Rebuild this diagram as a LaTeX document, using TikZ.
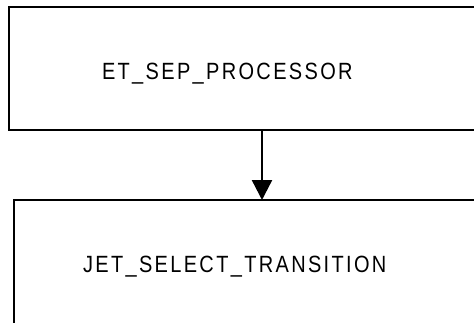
\documentclass[tikz,border=0pt]{standalone}
\usepackage{fontspec}
\setmainfont[FakeStretch=0.85,LetterSpace=10]{Liberation Sans}
\usetikzlibrary{arrows.meta}

\def\boxheight{123.3pt}

\begin{document}
\begin{tikzpicture}[x=1pt,y=1pt,line width=2pt,font=\fontsize{23.5}{28}\selectfont]
    \tikzstyle{block}=[rectangle,draw=black,inner sep=0pt,outer sep=0pt]
    \tikzstyle{label text}=[inner sep=0pt,anchor=base west]
    \tikzstyle{flow}=[-{Triangle[length=20pt,width=20pt]},line width=2.4pt]

    % Keep the page at the size of the picture
    \useasboundingbox (0,0) rectangle (474,-322);

    % Draw the two boxes, both run out past the right edge
    \node[block,minimum width=506pt,minimum height=\boxheight,anchor=north west] (sep) at (9,-6.7) {};
    \node[block,minimum width=496pt,minimum height=180pt,anchor=north west] (jet) at (14,-200) {};

    % Put the names into the boxes
    \node[label text] (sep-name) at (101,-79) {ET\_SEP\_PROCESSOR};
    \node[label text] (jet-name) at (82,-272) {JET\_SELECT\_TRANSITION};

    % Connect the boxes
    \draw[flow] (sep) -- (jet);
\end{tikzpicture}
\end{document}
